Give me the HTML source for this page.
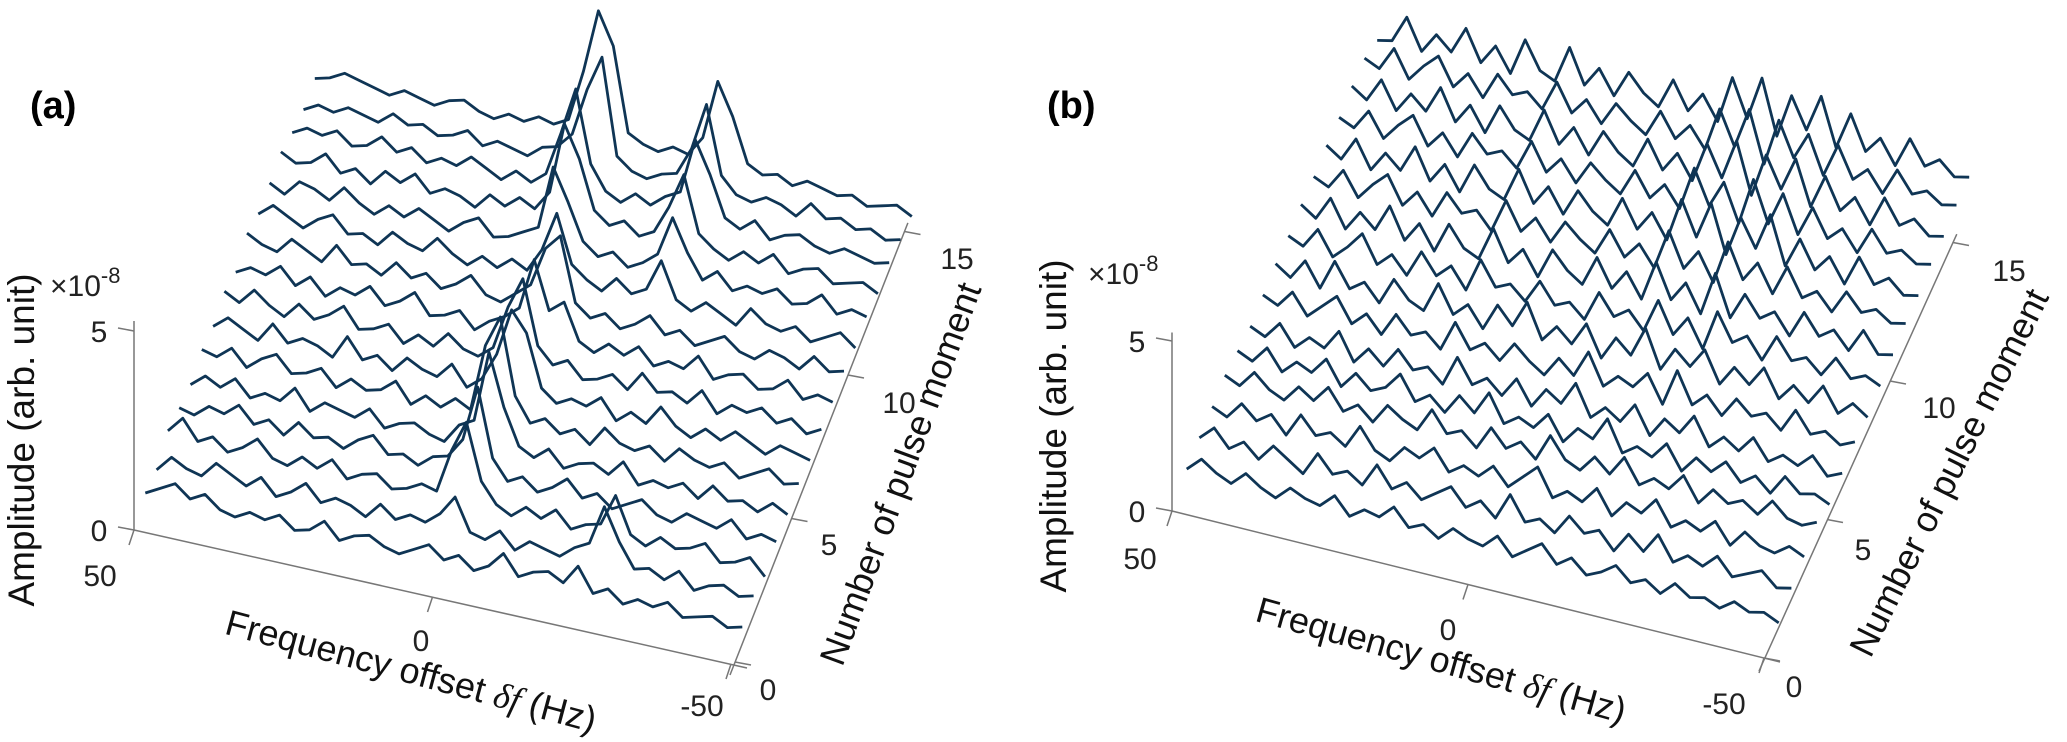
<!DOCTYPE html>
<html><head><meta charset="utf-8"><style>
html,body{margin:0;padding:0;background:#fff;}
svg{display:block;font-family:"Liberation Sans",Arial,sans-serif;}
</style></head><body>
<svg id="chart" width="2067" height="742" viewBox="0 0 2067 742" xmlns="http://www.w3.org/2000/svg">
<g id="panelA"></g>
<g id="panelB"></g>
<text x="30" y="118" font-size="38" font-weight="bold">(a)</text>
<text x="1047" y="118" font-size="38" font-weight="bold">(b)</text>
</svg>
<script>
const freqTicks = [50, 0, -50];
const freqTickLabels = ["50", "0", "-50"];
const ampTicks = [0, 5];
const ampTickLabels = ["0", "5"];
const pulseTicks = [0, 5, 10, 15];
const pulseTickLabels = ["0", "5", "10", "15"];
const freqs = [50,47.5,45,42.5,40,37.5,35,32.5,30,27.5,25,22.5,20,17.5,15,12.5,10,7.5,5,2.5,0,-2.5,-5,-7.5,-10,-12.5,-15,-17.5,-20,-22.5,-25,-27.5,-30,-32.5,-35,-37.5,-40,-42.5,-45,-47.5,-50];
const pulses = [1,2,3,4,5,6,7,8,9,10,11,12,13,14,15,16];

const panelA = [
[0.3,0.5,0.7,0.4,0.6,0.3,0.2,0.4,0.3,0.5,0.2,0.3,0.6,0.2,0.4,0.5,0.3,0.2,0.4,0.6,0.3,0.5,0.2,0.4,0.8,0.3,0.5,0.6,0.4,0.9,0.3,0.5,0.2,0.4,0.3,0.5,0.2,0.3,0.4,0.2,0.3],
[0.2,0.6,0.4,0.3,0.7,0.5,0.3,0.6,0.2,0.4,0.7,0.3,0.5,0.4,0.2,0.6,0.3,0.5,0.4,0.7,1.2,0.4,0.3,0.6,0.2,0.5,0.4,0.3,0.6,0.8,1.8,1.0,0.4,0.5,0.3,0.6,0.2,0.4,0.5,0.3,0.4],
[0.5,0.9,0.4,0.6,0.3,0.5,0.8,0.4,0.3,0.6,0.4,0.7,0.3,0.5,0.6,0.3,0.4,0.6,0.5,1.6,2.4,1.0,0.5,0.3,0.6,0.4,0.7,0.3,0.5,0.6,1.4,0.5,0.3,0.6,0.4,0.5,0.7,0.3,0.4,0.6,0.2],
[0.4,0.3,0.6,0.5,0.8,0.4,0.6,0.3,0.7,0.4,0.5,0.3,0.6,0.8,0.4,0.5,0.3,0.6,0.7,1.2,2.6,0.9,0.4,0.6,0.3,0.5,0.8,0.4,0.6,0.3,0.5,0.7,0.4,0.3,0.6,0.5,0.4,0.7,0.3,0.5,0.4],
[0.3,0.6,0.4,0.7,0.3,0.5,0.4,0.8,0.3,0.6,0.5,0.4,0.7,0.3,0.5,0.6,0.4,0.3,0.8,1.0,2.8,1.5,0.6,0.4,0.7,0.3,0.5,0.6,0.4,0.8,0.3,0.5,0.4,0.6,0.3,0.7,0.4,0.5,0.3,0.6,0.4],
[0.5,0.4,0.7,0.3,0.6,0.8,0.4,0.5,0.7,0.3,0.6,0.4,0.5,0.8,0.3,0.6,0.4,0.7,0.5,2.2,3.0,1.1,0.5,0.7,0.4,0.6,0.3,0.8,0.5,0.4,0.6,0.3,0.7,0.5,0.4,0.6,0.3,0.5,0.7,0.4,0.5],
[0.4,0.7,0.5,0.3,0.8,0.4,0.6,0.5,0.3,0.9,0.4,0.6,0.3,0.7,0.5,0.4,0.8,0.3,0.6,1.3,2.5,2.0,0.7,0.4,0.6,0.5,0.8,0.3,0.6,0.4,0.9,0.5,0.3,0.6,0.4,0.7,0.5,0.3,0.6,0.5,0.4],
[0.6,0.4,0.8,0.5,0.3,0.7,0.4,0.6,0.9,0.4,0.5,0.7,0.3,0.6,0.4,0.8,0.5,0.4,0.7,1.8,2.6,1.0,0.6,0.8,0.4,0.5,0.7,0.4,0.9,0.5,0.6,0.4,0.8,0.3,0.6,0.5,0.7,0.4,0.6,0.3,0.5],
[0.4,0.6,0.5,0.8,0.4,0.7,0.3,0.6,0.5,0.8,0.4,0.6,0.9,0.4,0.5,0.7,0.3,0.6,0.8,1.1,2.4,1.2,1.5,0.6,0.4,0.7,0.5,0.8,0.4,0.6,0.5,0.9,0.4,0.6,0.7,0.4,0.5,0.8,0.4,0.6,0.5],
[0.7,0.5,0.4,0.8,0.6,0.4,0.9,0.5,0.6,0.4,0.8,0.5,0.7,0.4,0.6,0.9,0.5,0.4,0.7,1.0,2.0,2.4,0.8,0.5,0.7,0.4,0.6,0.9,0.5,0.7,0.4,0.6,0.8,0.5,0.4,0.7,0.6,0.4,0.8,0.5,0.6],
[0.5,0.8,0.6,0.4,0.7,0.9,0.5,0.6,0.4,0.8,0.6,0.5,0.9,0.6,0.4,0.7,0.5,0.8,0.6,1.2,2.2,1.0,0.7,0.5,0.9,0.6,0.8,1.6,0.7,0.5,0.8,0.6,0.4,0.9,0.6,0.5,0.7,0.4,0.6,0.8,0.5],
[0.6,0.4,0.8,0.7,0.5,0.9,0.6,0.4,0.7,0.5,0.8,0.6,0.4,0.7,0.9,0.5,0.6,0.8,1.0,2.6,1.8,0.9,0.6,0.8,0.5,0.7,1.0,2.0,1.2,0.6,0.9,0.5,0.7,0.6,0.8,0.5,0.6,0.9,0.5,0.7,0.6],
[0.7,0.5,0.6,0.9,0.5,0.7,0.4,0.8,0.6,0.9,0.5,0.7,0.6,0.4,0.8,0.6,0.9,0.7,1.2,3.0,2.2,1.0,0.7,0.9,0.6,0.8,1.5,2.4,1.0,0.7,0.5,0.8,0.6,0.9,0.5,0.7,0.8,0.5,0.6,0.7,0.5],
[0.5,0.7,0.6,0.8,0.5,0.6,0.9,0.6,0.8,0.5,0.7,0.6,0.9,0.7,0.5,0.8,0.6,0.9,2.0,3.2,1.4,0.8,0.6,0.9,0.7,1.0,1.2,2.6,1.8,0.8,0.6,0.9,0.5,0.7,0.8,0.6,0.5,0.7,0.6,0.5,0.6],
[0.4,0.6,0.5,0.7,0.6,0.5,0.8,0.6,0.7,0.5,0.6,0.8,0.5,0.7,0.6,0.5,0.8,0.9,1.3,2.5,3.4,1.0,0.7,0.6,0.8,0.9,1.6,2.8,1.1,0.7,0.6,0.8,0.7,0.5,0.9,0.6,0.7,0.5,0.6,0.4,0.5],
[0.5,0.6,0.8,0.7,0.6,0.5,0.7,0.6,0.5,0.7,0.8,0.6,0.5,0.7,0.6,0.8,0.7,0.9,2.2,3.8,3.0,0.9,0.7,0.6,0.8,0.7,1.2,2.7,1.9,0.8,0.6,0.7,0.5,0.7,0.6,0.5,0.6,0.4,0.5,0.6,0.4]
];

const panelB = [
[0.5,0.9,0.6,0.4,0.8,0.5,0.3,0.7,0.5,0.4,0.8,0.3,0.6,0.5,0.9,0.4,0.6,0.3,0.7,0.5,0.4,0.8,0.3,0.6,0.9,0.4,0.7,0.3,0.5,0.8,0.4,0.6,0.3,0.7,0.4,0.5,0.3,0.6,0.4,0.5,0.3],
[0.6,1.0,0.5,0.8,0.4,0.9,0.6,0.3,1.0,0.5,0.7,0.4,1.1,0.5,0.8,0.4,0.7,1.0,0.5,0.8,0.4,1.2,0.5,0.7,0.4,1.0,0.6,0.8,0.3,0.9,0.5,1.1,0.4,0.7,0.5,0.9,0.4,0.6,0.8,0.4,0.5],
[0.7,0.5,1.0,0.6,0.9,0.4,1.1,0.6,0.8,0.5,1.2,0.6,0.4,0.9,0.7,1.1,0.5,0.8,0.6,1.0,0.5,0.9,1.3,0.5,0.8,0.6,1.1,0.4,0.9,0.7,1.2,0.5,0.8,0.6,1.0,0.4,0.9,0.6,0.5,0.8,0.6],
[0.8,0.6,1.1,0.7,0.5,1.0,0.7,1.2,0.6,0.9,0.5,1.1,0.8,0.6,1.3,0.7,0.9,0.5,1.2,0.7,1.0,0.6,1.4,0.8,0.6,1.1,0.7,1.3,0.6,0.9,0.7,1.2,0.5,1.0,0.7,0.9,0.6,1.1,0.7,0.6,0.8],
[0.7,0.5,1.0,0.4,0.8,0.6,1.1,0.4,0.9,0.5,0.7,1.2,0.5,0.8,0.4,1.0,0.6,1.3,0.5,0.8,0.6,1.1,0.4,0.9,0.7,1.4,0.5,0.8,0.6,1.1,0.4,0.9,0.6,1.0,0.5,0.8,0.4,1.0,0.6,0.7,0.5],
[0.6,0.4,0.9,0.3,0.7,0.5,1.1,0.3,0.8,0.4,1.0,0.5,0.7,0.3,1.2,0.5,0.8,0.4,1.0,0.3,0.9,0.6,1.3,0.4,0.8,0.5,1.1,0.3,0.9,0.6,1.2,0.4,0.8,0.5,1.0,0.4,0.7,0.5,0.9,0.4,0.6],
[0.7,0.5,1.0,0.4,0.8,1.2,0.5,0.9,0.4,1.1,0.6,0.8,0.4,1.3,0.6,0.9,0.5,1.1,0.7,0.4,1.0,0.6,1.4,0.5,0.9,0.7,1.2,0.4,1.5,0.6,1.0,0.5,1.1,0.7,0.9,0.5,1.2,0.6,0.8,0.5,0.7],
[0.8,0.5,1.1,0.4,1.3,0.6,0.9,0.4,1.2,0.7,0.5,1.4,0.6,1.0,0.4,1.2,0.7,1.5,0.5,1.0,0.6,1.3,0.4,1.1,0.7,1.6,0.5,1.2,0.8,1.4,0.5,1.1,0.7,1.3,0.5,1.0,0.6,1.2,0.5,0.9,0.6],
[0.8,0.6,1.2,0.5,0.9,1.4,0.6,1.0,0.5,1.3,0.7,1.1,0.5,1.5,0.8,1.0,0.6,1.3,0.7,0.9,0.5,1.4,0.8,1.1,0.6,1.6,0.7,1.3,0.5,1.7,0.9,1.2,0.6,1.4,0.8,1.0,0.6,1.2,0.7,0.9,0.7],
[0.9,0.6,1.3,0.5,1.1,0.7,1.5,0.6,1.2,0.5,1.4,0.8,0.6,1.6,0.7,1.2,0.5,1.4,0.9,0.6,1.5,0.7,1.3,0.6,1.8,0.8,1.4,0.6,1.9,0.7,1.5,0.9,1.2,0.6,1.4,0.8,1.1,0.6,1.3,0.7,0.8],
[0.9,0.7,1.3,0.6,1.1,1.5,0.7,1.2,0.6,1.4,0.9,1.1,0.6,1.6,0.8,1.3,0.7,1.4,1.0,0.7,1.5,0.8,1.3,0.7,1.9,0.9,1.5,0.7,2.0,1.0,1.6,0.8,1.7,0.9,1.2,0.7,1.4,0.9,1.1,0.8,0.9],
[1.0,0.7,1.4,0.6,1.2,0.8,1.6,0.7,1.3,0.6,1.5,0.9,0.7,1.7,0.8,1.4,0.7,1.5,1.0,0.7,1.6,0.8,1.4,0.7,2.0,1.0,2.1,0.7,1.9,1.1,2.2,0.8,1.7,0.9,1.4,0.7,1.6,0.9,1.2,0.8,0.9],
[1.0,0.8,1.4,0.7,1.2,1.6,0.8,1.3,0.7,1.5,1.0,1.2,0.8,1.7,0.9,1.4,0.8,1.5,1.1,0.8,1.6,0.9,1.4,0.8,2.1,1.1,1.9,0.8,2.2,1.0,2.0,0.9,1.8,1.0,1.4,0.8,1.6,1.0,1.2,0.9,1.0],
[1.1,0.8,1.5,0.7,1.3,0.9,1.7,0.8,1.4,0.7,1.6,1.0,0.8,1.8,0.9,1.5,0.8,1.6,1.1,0.8,1.7,0.9,1.5,0.8,2.0,1.1,2.3,0.8,2.1,1.2,2.2,0.9,1.9,1.0,1.5,0.8,1.7,1.0,1.3,0.9,1.0],
[1.1,0.9,1.6,0.8,1.3,1.7,0.9,1.4,0.8,1.6,1.1,1.3,0.9,1.8,1.0,1.5,0.9,1.6,1.2,0.9,1.7,1.0,1.5,0.9,2.2,1.2,2.4,0.9,2.3,1.3,2.1,1.0,2.0,1.1,1.5,0.9,1.7,1.1,1.3,1.0,1.1],
[0.8,0.9,1.7,0.8,1.4,1.0,1.8,0.9,1.5,0.8,1.9,1.1,0.9,2.0,1.0,1.6,0.9,1.7,1.2,0.9,1.8,1.0,1.6,0.9,2.3,1.2,2.5,0.9,2.2,1.3,2.4,1.0,2.1,1.1,1.6,0.9,1.8,1.1,1.4,1.0,1.1]
];

const NS = 'http://www.w3.org/2000/svg';
function mk(tag, attrs, parent) {
  const e = document.createElementNS(NS, tag);
  for (const k in attrs) e.setAttribute(k, attrs[k]);
  parent.appendChild(e);
  return e;
}

const cfgA = {
  g: 'panelA', data: panelA, name: 'a',
  O: [134, 530], F: [597, 134], P: [11.3, -27.1], traceO: [134, 532], ampScale: 39.8,
  Q0: [735, 662], Qp: [11.3, -28.7],
  freqLabels: [[100, 586], [421, 651], [702, 716]],
  ampLabels: [[103, 412], [103, 294]],
  pulseLabels: [[768, 700], [829, 555], [899, 413], [957, 269]],
  xlab: [408, 683, 15], zlab: [912, 478, -69.8], ylab: [34, 440],
  expo: [50, 296]
};
const cfgB = {
  g: 'panelB', data: panelB, name: 'b',
  O: [1172, 511], F: [592, 147], P: [12.7, -27.9], traceO: [1174, 514], ampScale: 34,
  Q0: [1764, 658], Qp: [12.6, -27.7],
  freqLabels: [[1140, 569], [1448, 640], [1724, 714]],
  ampLabels: [[1140, 393], [1140, 352]],
  pulseLabels: [[1794, 697], [1863, 560], [1939, 418], [2009, 281]],
  xlab: [1438, 672, 15.6], zlab: [1960, 478, -63.7], ylab: [1066, 426],
  expo: [1088, 284]
};

function drawPanel(c) {
  const g = document.getElementById(c.g);
  const freqPos = f => (50 - f) / 100;
  const fx = (f, p, a) => c.traceO[0] + freqPos(f) * c.F[0] + p * c.P[0];
  const fy = (f, p, a) => c.traceO[1] + freqPos(f) * c.F[1] + p * c.P[1] - a * c.ampScale;
  const ax = '#777';
  const vTop = c.O[1] - 5.25 * c.ampScale;
  const vAxis = mk('line', {x1: c.O[0], y1: c.O[1], x2: c.O[0], y2: vTop, stroke: ax, 'stroke-width': 1.5}, g);
  
  
  ampTicks.forEach((t, i) => {
    const y = c.O[1] - t * c.ampScale;
    const tk = mk('line', {x1: c.O[0], y1: y, x2: c.O[0] - 16, y2: y - 3, stroke: ax, 'stroke-width': 1.5}, g);
    
    
    const tx = mk('text', {x: c.O[0] - 35, y: y + 11, 'font-size': 30, 'text-anchor': 'middle', fill: '#222'}, g);
    tx.textContent = ampTickLabels[i];
    
    
  });
  const fEnd = [c.O[0] + c.F[0], c.O[1] + c.F[1]];
  const fAxis = mk('line', {x1: c.O[0], y1: c.O[1], x2: fEnd[0] + 16, y2: fEnd[1] + 4, stroke: ax, 'stroke-width': 1.5}, g);
  
  
  freqTicks.forEach((f, i) => {
    const x = c.O[0] + freqPos(f) * c.F[0], y = c.O[1] + freqPos(f) * c.F[1];
    const tk = mk('line', {x1: x, y1: y, x2: x - 5, y2: y + 15, stroke: ax, 'stroke-width': 1.5}, g);
    
    
    const tx = mk('text', {x: c.freqLabels[i][0], y: c.freqLabels[i][1], 'font-size': 30, 'text-anchor': 'middle', fill: '#222'}, g);
    tx.textContent = freqTickLabels[i];
    
    
  });
  const qEnd = [c.Q0[0] + 15.3 * c.Qp[0], c.Q0[1] + 15.3 * c.Qp[1]];
  const pAxis = mk('line', {x1: c.Q0[0] - 5, y1: c.Q0[1] + 13, x2: qEnd[0], y2: qEnd[1], stroke: ax, 'stroke-width': 1.5}, g);
  
  
  pulseTicks.forEach((p, i) => {
    const x = c.Q0[0] + p * c.Qp[0], y = c.Q0[1] + p * c.Qp[1];
    const tk = mk('line', {x1: x, y1: y, x2: x + 16, y2: y + 3, stroke: ax, 'stroke-width': 1.5}, g);
    
    
    const tx = mk('text', {x: c.pulseLabels[i][0], y: c.pulseLabels[i][1], 'font-size': 30, 'text-anchor': 'middle', fill: '#222'}, g);
    tx.textContent = pulseTickLabels[i];
    
    
  });
  for (let k = c.data.length - 1; k >= 0; k--) {
    const vals = c.data[k];
    const p = pulses[k];
    const pts = vals.map((a, i) => fx(freqs[i], p, a).toFixed(1) + ',' + fy(freqs[i], p, a).toFixed(1)).join(' ');
    const pl = mk('polyline', {points: pts, fill: 'none', stroke: '#0f3555', 'stroke-width': 2.8, 'stroke-linejoin': 'round'}, g);
    
    
  }
  const xl = mk('text', {x: c.xlab[0], y: c.xlab[1], 'font-size': 36, 'text-anchor': 'middle', fill: '#111', transform: `rotate(${c.xlab[2]} ${c.xlab[0]} ${c.xlab[1]})`}, g);
  xl.innerHTML = 'Frequency offset <tspan font-family="Liberation Serif, serif" font-style="italic">δf</tspan> (Hz)';
  
  
  const zl = mk('text', {x: c.zlab[0], y: c.zlab[1], 'font-size': 36, 'text-anchor': 'middle', fill: '#111', transform: `rotate(${c.zlab[2]} ${c.zlab[0]} ${c.zlab[1]})`}, g);
  zl.textContent = 'Number of pulse moment';
  
  
  const yl = mk('text', {x: c.ylab[0], y: c.ylab[1], 'font-size': 37, 'text-anchor': 'middle', fill: '#111', transform: `rotate(-90 ${c.ylab[0]} ${c.ylab[1]})`}, g);
  yl.textContent = 'Amplitude (arb. unit)';
  
  
  const ex = mk('text', {x: c.expo[0], y: c.expo[1], 'font-size': 30, fill: '#222'}, g);
  ex.innerHTML = '×10<tspan dy="-13" font-size="22">-8</tspan>';
  
  
}
drawPanel(cfgA);
drawPanel(cfgB);
</script>
</body></html>
